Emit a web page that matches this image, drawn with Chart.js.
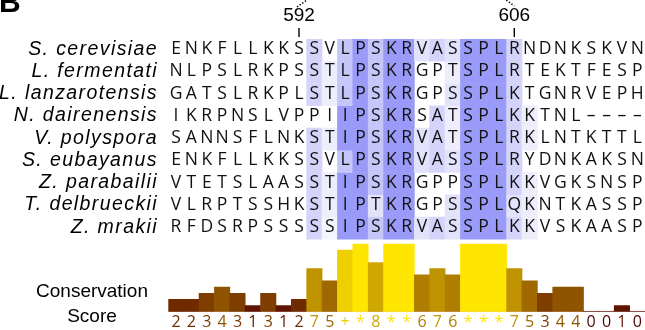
<!DOCTYPE html>
<html>
<head>
<meta charset="utf-8">
<script src="https://cdn.jsdelivr.net/npm/chart.js@4/dist/chart.umd.min.js"></script>
<style>
  html, body { margin: 0; padding: 0; background: #ffffff; }
  #wrap { width: 645px; height: 330px; position: relative; }
</style>
</head>
<body>
<div id="wrap"><canvas id="chart" width="645" height="330"></canvas></div>
<script>
// Species in alignment order (top to bottom)
const species = [
  'S. cerevisiae', 'L. fermentati', 'L. lanzarotensis', 'N. dairenensis',
  'V. polyspora', 'S. eubayanus', 'Z. parabailii', 'T. delbrueckii', 'Z. mrakii'
];

// Aligned residues, one string per species (31 columns)
const sequences = [
  'ENKFLLKKSSVLPSKRVASSPLRNDNKSKVN',
  'NLPSLRKPSSTLPSKRGPTSPLRTEKTFESP',
  'GATSLRKPLSTLPSKRGPSSPLKTGNRVEPH',
  'IKRPNSLVPPIIPSKRSATSPLKKTNL----',
  'SANNSFLNKSTIPSKRVATSPLRKLNTKTTL',
  'ENKFLLKKSSVLPSKRVASSPLRYDNKAKSN',
  'VTETSLAASSTIPSKRGPPSPLKKVGKSNSP',
  'VLRPTSSHKSTIPTKRGPSSPLQKNTKASSP',
  'RFDSRPSSSSSIPSKRVASSPLKKVSKAASP'
];

// Identity/similarity class of every residue
// D identical & conserved, M/m/l/v/w progressively weaker, '.' unshaded
const shading = [
  '.........m.MDMDDlmlDDDm........',
  '.........mvMDMDD..vDDDm........',
  '.........mvMDMDD..lDDDm........',
  '...........DDMDD.mvDDDmv.......',
  '.........mvDDMDDlmvDDDmv.......',
  '.........m.MDMDDlmlDDDm........',
  '.........mvDDMDD...DDDmv.......',
  '.........mvDDlDD..lDDDlv.......',
  '.........mwDDMDDlmlDDDmv.......'
];

// Per-column conservation score ('+' = 10, '*' = 11)
const scoreLabels = [
  '2','2','3','4','3','1','3','1','2','7','5','+','*','8','*','*',
  '6','7','6','*','*','*','7','5','3','4','4','0','0','1','0'
];

// Residue numbering shown above the alignment (1-based column)
const markerColumns = [9, 23];
const markerLabels = ['592', '606'];

// ---- styling ----
const shadeColors = {
  'D': 'rgb(154,154,249)',
  'M': 'rgb(198,198,250)',
  'm': 'rgb(212,212,250)',
  'l': 'rgb(226,226,251)',
  'v': 'rgb(237,237,252)',
  'w': 'rgb(245,245,253)',
  '.': 'rgba(255,255,255,0)'
};
// conservation colour ramp, index = score 0..11
const scorePalette = [
  '#500000', '#601400', '#6f2a00', '#7f3e00', '#8f5400', '#9f6900',
  '#af7e00', '#bf9300', '#cea800', '#debd00', '#eed000', '#ffe600'
];

const scoreValues = scoreLabels.map(s => s === '*' ? 11 : s === '+' ? 10 : Number(s));

const AREA_TOP = 39;       // top of the alignment block
const BASELINE = 311.7;    // zero line of the conservation bars
const ROW_PITCH = 22.25;   // alignment row height
const BAR_UNIT = 6.155;    // pixels per conservation unit
const PLOT_LEFT = 168.3;

const columnIds = scoreLabels.map((_, i) => String(i + 1));

const rowDatasets = sequences.map((seq, r) => ({
  type: 'bar',
  label: species[r],
  yAxisID: 'yAln',
  data: seq.split('').map(() => [r - 0.5, r + 0.5]),
  backgroundColor: shading[r].split('').map(c => shadeColors[c]),
  borderWidth: 0,
  borderSkipped: false,
  grouped: false,
  barPercentage: 1,
  categoryPercentage: 1,
  order: 2
}));

const scoreDataset = {
  type: 'bar',
  label: 'Conservation',
  yAxisID: 'yBar',
  data: scoreValues,
  backgroundColor: scoreValues.map(v => scorePalette[v]),
  borderWidth: 0,
  grouped: false,
  barPercentage: 1,
  categoryPercentage: 1,
  order: 1
};

const alignmentDecor = {
  id: 'alignmentDecor',
  beforeDatasetsDraw(chart) {
    const { ctx, chartArea } = chart;
    const yb = chart.scales.yBar;
    const y0 = yb.getPixelForValue(0);
    ctx.save();
    ctx.strokeStyle = 'rgba(120,20,40,0.28)';
    ctx.lineWidth = 1.3;
    ctx.beginPath();
    ctx.moveTo(chartArea.left, y0 - 0.3);
    ctx.lineTo(chartArea.right + 1, y0 - 0.3);
    ctx.stroke();
    ctx.restore();
  },
  afterDatasetsDraw(chart) {
    const { ctx } = chart;
    const xs = chart.scales.x;
    const ya = chart.scales.yAln;
    ctx.save();

    // residues
    ctx.fillStyle = '#111111';
    ctx.font = '17.5px "Open Sans"';
    ctx.textAlign = 'center';
    ctx.textBaseline = 'middle';
    sequences.forEach((seq, r) => {
      const y = ya.getPixelForValue(r) - 1;
      seq.split('').forEach((ch, c) => {
        ctx.fillText(ch === '-' ? '\u2013' : ch, xs.getPixelForValue(c), y);
      });
    });

    // species names
    ctx.font = 'italic 19.5px "Liberation Sans"';
    ctx.textAlign = 'right';
    ctx.fillStyle = '#000000';
    if ('letterSpacing' in ctx) ctx.letterSpacing = '1.4px';
    species.forEach((name, r) => {
      ctx.fillText(name, 158, ya.getPixelForValue(r) - 1);
    });
    if ('letterSpacing' in ctx) ctx.letterSpacing = '0px';

    // conservation score characters
    ctx.font = '16px "Open Sans"';
    ctx.textAlign = 'center';
    scoreLabels.forEach((s, c) => {
      ctx.fillStyle = scorePalette[scoreValues[c]];
      ctx.fillText(s, xs.getPixelForValue(c), 322);
    });

    // axis caption
    ctx.fillStyle = '#000000';
    ctx.font = '19px "Liberation Sans"';
    ctx.fillText('Conservation', 92, 292);
    ctx.fillText('Score', 92, 316.5);

    // residue numbering with ticks and dotted leaders
    markerColumns.forEach((col, i) => {
      const x = xs.getPixelForValue(col - 1);
      ctx.fillStyle = '#000000';
      ctx.font = '19px "Liberation Sans"';
      ctx.textAlign = 'center';
      ctx.textBaseline = 'middle';
      ctx.fillText(markerLabels[i], x, 15.5);
      ctx.strokeStyle = '#000000';
      ctx.lineWidth = 1.4;
      ctx.setLineDash([]);
      ctx.beginPath();
      ctx.moveTo(x, 28);
      ctx.lineTo(x, 37);
      ctx.stroke();
      ctx.setLineDash([1.4, 1.8]);
      ctx.lineWidth = 1.5;
      ctx.beginPath();
      if (i === 0) { ctx.moveTo(x - 2, 7); ctx.lineTo(x + 8, 0); }
      else { ctx.moveTo(x - 8, 0); ctx.lineTo(x, 6); }
      ctx.stroke();
    });
    ctx.setLineDash([]);

    // panel letter
    ctx.fillStyle = '#000000';
    ctx.font = 'bold 30px "Liberation Sans"';
    ctx.textAlign = 'left';
    ctx.textBaseline = 'alphabetic';
    ctx.fillText('B', -1, 12);

    ctx.restore();
  }
};

new Chart(document.getElementById('chart'), {
  type: 'bar',
  data: {
    labels: columnIds,
    datasets: [...rowDatasets, scoreDataset]
  },
  options: {
    responsive: false,
    animation: false,
    events: [],
    layout: {
      padding: { left: PLOT_LEFT, right: 0, top: AREA_TOP, bottom: 330 - BASELINE }
    },
    plugins: { legend: { display: false }, tooltip: { enabled: false } },
    scales: {
      x: { type: 'category', display: false, offset: true, grid: { display: false } },
      yAln: {
        type: 'linear', display: false, reverse: true,
        min: -0.5, max: -0.5 + (BASELINE - AREA_TOP) / ROW_PITCH
      },
      yBar: {
        type: 'linear', display: false,
        min: 0, max: (BASELINE - AREA_TOP) / BAR_UNIT
      }
    }
  },
  plugins: [alignmentDecor]
});
</script>
</body>
</html>
